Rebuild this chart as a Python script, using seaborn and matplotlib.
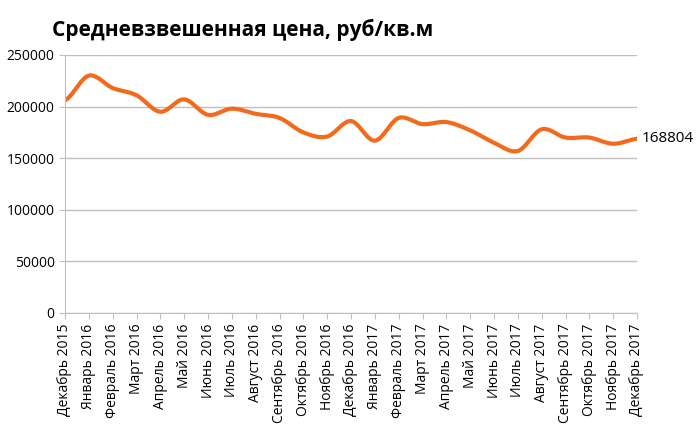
import numpy as np
import pandas as pd
import matplotlib
matplotlib.use("Agg")
import matplotlib.pyplot as plt
import seaborn as sns

months = ["Декабрь 2015","Январь 2016","Февраль 2016","Март 2016","Апрель 2016","Май 2016",
          "Июнь 2016","Июль 2016","Август 2016","Сентябрь 2016","Октябрь 2016","Ноябрь 2016",
          "Декабрь 2016","Январь 2017","Февраль 2017","Март 2017","Апрель 2017","Май 2017",
          "Июнь 2017","Июль 2017","Август 2017","Сентябрь 2017","Октябрь 2017","Ноябрь 2017",
          "Декабрь 2017"]
prices = [206000,230000,218000,211000,195000,207000,192000,198000,193000,189000,175000,171000,
          186000,167000,189000,183000,185000,177000,165000,157000,178000,170000,170000,164000,168804]
yticks = [0,50000,100000,150000,200000,250000]

plt.rcParams["font.family"] = "Open Sans"
fig = plt.figure(figsize=(7, 4.32), dpi=100)
ax = fig.add_axes([65/700, 1-313/432, 572/700, 258/432])

# Catmull-Rom smoothing for rendering
x = np.arange(len(prices), dtype=float)
y = np.array(prices, dtype=float)
P = np.concatenate([[y[0]], y, [y[-1]]])
xs, ys = [], []
for i in range(len(y) - 1):
    p0, p1, p2, p3 = P[i], P[i+1], P[i+2], P[i+3]
    t = np.linspace(0, 1, 20, endpoint=False)
    ys.append(0.5*((2*p1) + (-p0+p2)*t + (2*p0-5*p1+4*p2-p3)*t**2 + (-p0+3*p1-3*p2+p3)*t**3))
    xs.append(i + t)
xs.append([x[-1]]); ys.append([y[-1]])
df = pd.DataFrame({"x": np.concatenate(xs), "y": np.concatenate(ys)})
sns.lineplot(data=df, x="x", y="y", ax=ax, color="#F26B1D", linewidth=3, sort=False)

ax.set_xlim(0, len(prices)-1)
ax.set_ylim(0, 250000)
ax.set_yticks(yticks)
ax.set_yticklabels([str(v) for v in yticks], fontsize=10)
ax.set_xticks(x)
ax.set_xticklabels(months, rotation=90, fontsize=10)
ax.set_xlabel(""); ax.set_ylabel("")
ax.grid(axis="y", color="#BFBFBF", linewidth=1)
ax.set_axisbelow(True)
for s in ["top", "right"]:
    ax.spines[s].set_visible(False)
ax.spines["left"].set_color("#BFBFBF")
ax.spines["bottom"].set_color("#BFBFBF")
ax.tick_params(axis="both", length=4, color="#BFBFBF")
ax.text(len(prices)-1 + 0.2, prices[-1], str(prices[-1]), va="center", ha="left", fontsize=11)
fig.text(52/700, 1-30/432, "Средневзвешенная цена, руб/кв.м", fontsize=15, fontweight="bold", va="center")
fig.savefig("out.png", dpi=100)
